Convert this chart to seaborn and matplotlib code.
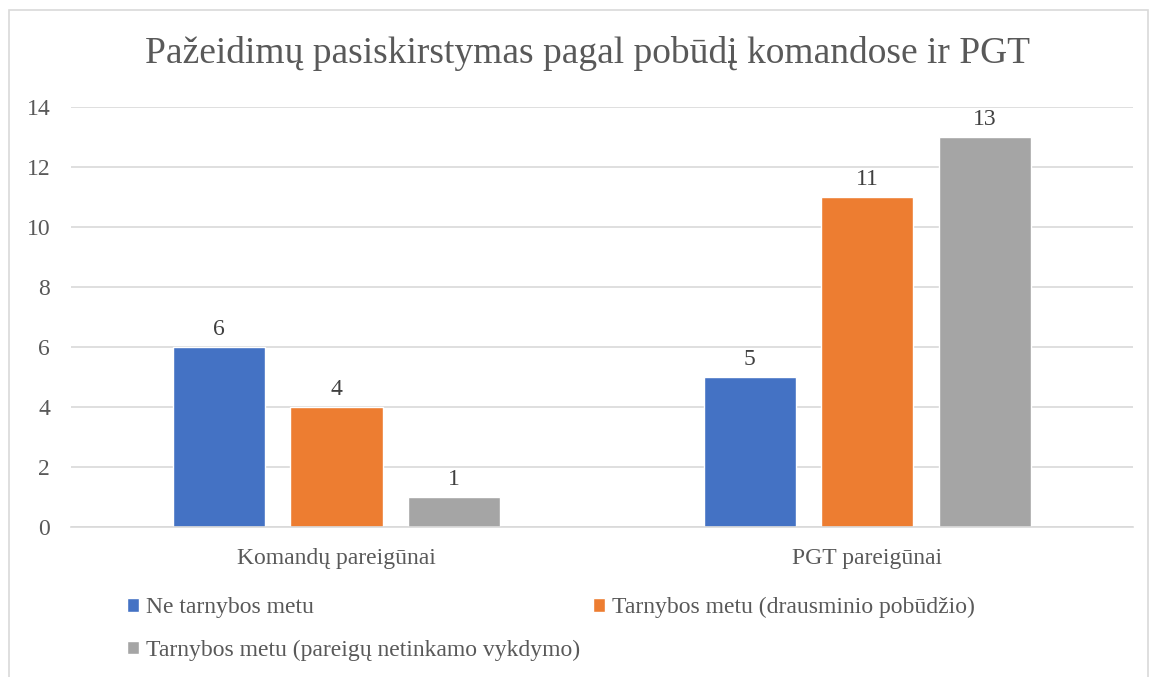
import matplotlib.pyplot as plt
import pandas as pd
import seaborn as sns
from matplotlib.patches import Rectangle

groups = ["Komandų pareigūnai", "PGT pareigūnai"]
series = ["Ne tarnybos metu",
          "Tarnybos metu (drausminio pobūdžio)",
          "Tarnybos metu (pareigų netinkamo vykdymo)"]
ne_tarnybos = [6, 5]
drausminio = [4, 11]
netinkamo = [1, 13]
colors = ["#4472c4", "#ed7d31", "#a5a5a5"]

df = pd.DataFrame({
    "group": groups * 3,
    "series": [series[0]] * 2 + [series[1]] * 2 + [series[2]] * 2,
    "value": ne_tarnybos + drausminio + netinkamo,
})

sns.set_style("white")
plt.rcParams["font.family"] = ["Liberation Serif", "DejaVu Serif"]

fig = plt.figure(figsize=(11.57, 6.77), dpi=100)
ax = fig.add_axes([0.0614, 0.2216, 0.9176, 0.6204])

g = sns.barplot(data=df, x="group", y="value", hue="series", palette=colors,
                width=0.664, gap=0.216, ax=ax, legend=True, saturation=1)

for c in ax.containers:
    ax.bar_label(c, padding=5, fontsize=17, color="#404040")

ax.set_ylim(0, 14)
ax.set_yticks(range(0, 15, 2))
ax.yaxis.grid(True, color="#d9d9d9", linewidth=1.2)
ax.set_axisbelow(True)
for s in ["top", "right", "left"]:
    ax.spines[s].set_visible(False)
ax.spines["bottom"].set_color("#d9d9d9")
ax.spines["bottom"].set_linewidth(1.2)
ax.tick_params(axis="both", length=0, labelsize=17, labelcolor="#595959")
ax.tick_params(axis="y", pad=15)
ax.tick_params(axis="x", pad=15)
ax.set_xlabel("")
ax.set_ylabel("")

fig.suptitle("Pažeidimų pasiskirstymas pagal pobūdį komandose ir PGT",
             x=0.508, y=0.947, fontsize=27, color="#595959")

handles, labels = ax.get_legend_handles_labels()
ax.get_legend().remove()
order = [0, 2, 1]
fig.legend([handles[i] for i in order], [labels[i] for i in order], ncol=2,
           loc="upper left", bbox_to_anchor=(0.110, 0.118),
           frameon=False, fontsize=17, labelcolor="#595959", handlelength=0.5,
           handleheight=0.5, handletextpad=0.3, columnspacing=0.55, labelspacing=0.9,
           borderaxespad=0, borderpad=0)

fig.patches.append(Rectangle((0.008, -0.01), 0.984, 0.995, transform=fig.transFigure,
                             fill=False, edgecolor="#d9d9d9", linewidth=1.2))

fig.savefig("out.png", dpi=100)
